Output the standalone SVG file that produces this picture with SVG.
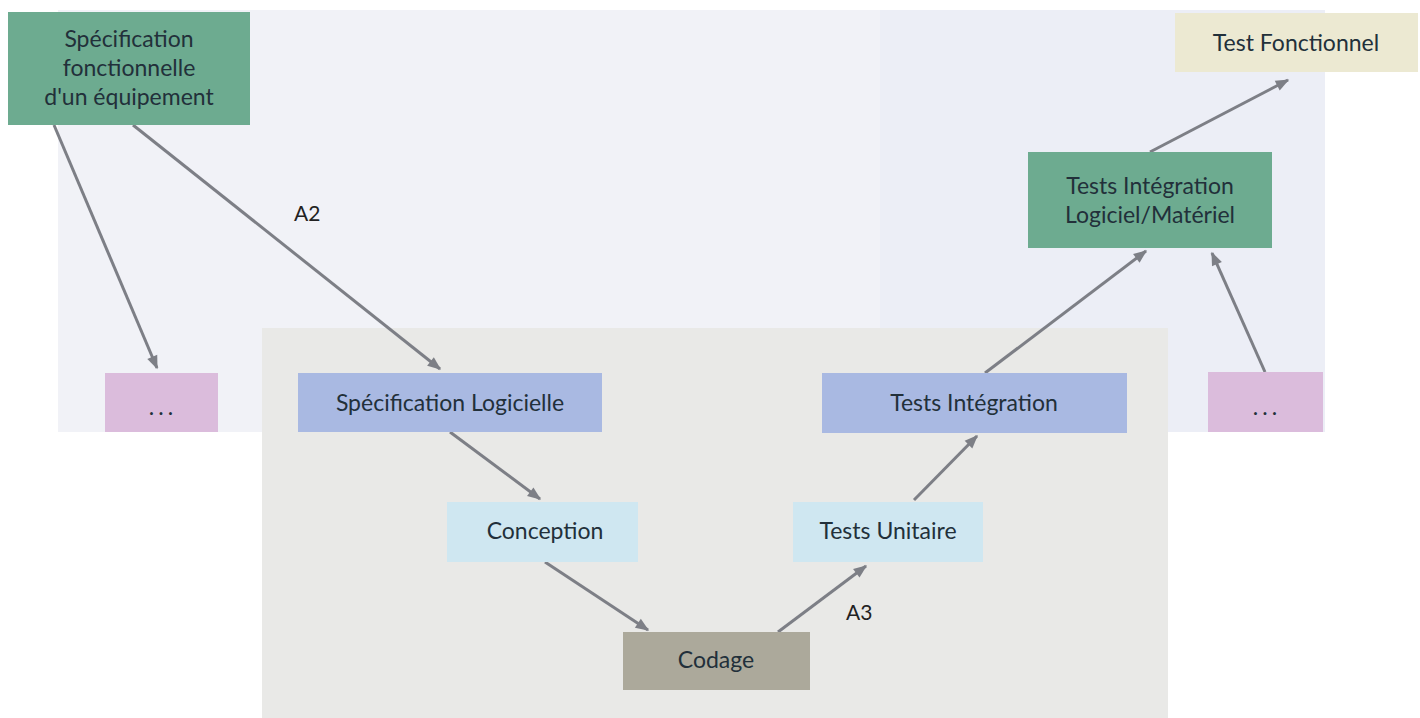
<svg xmlns="http://www.w3.org/2000/svg" width="1420" height="718" viewBox="0 0 1420 718">
<defs>
<style>
.t{font-family:Lato,"Open Sans","Liberation Sans",sans-serif;font-size:23px;fill:#22303a;text-anchor:middle;dominant-baseline:central}
.d{letter-spacing:4px}
.c{stroke:#7d7f86;stroke-width:3;fill:none;marker-end:url(#ah)}
.lbl{font-family:Lato,"Liberation Sans",sans-serif;font-size:21px;fill:#222}
</style>
<marker id="ah" viewBox="0 0 10 10" refX="9" refY="5" markerWidth="5" markerHeight="4.5" orient="auto-start-reverse" markerUnits="strokeWidth">
<path d="M0,1 L10,5 L0,9 Z" fill="#7d7f86"/>
</marker>
</defs>
<rect width="1420" height="718" fill="#ffffff"/>
<g id="background">
<rect x="58" y="10" width="1267" height="422" fill="#f1f2f7"/>
<rect x="880" y="10" width="445" height="422" fill="#eceef6"/>
<rect x="262" y="328" width="906" height="390" fill="#e9e9e7"/>
</g>
<g id="connectors">
<line class="c" x1="54" y1="125" x2="157" y2="368"/>
<line class="c" x1="133" y1="125" x2="440" y2="369"/>
<line class="c" x1="450" y1="432" x2="540" y2="499"/>
<line class="c" x1="545" y1="562" x2="648" y2="630"/>
<line class="c" x1="778" y1="632" x2="866" y2="566"/>
<line class="c" x1="914" y1="500" x2="977" y2="436"/>
<line class="c" x1="985" y1="373" x2="1146" y2="251"/>
<line class="c" x1="1265" y1="372" x2="1212" y2="253"/>
<line class="c" x1="1150" y1="152" x2="1288" y2="80"/>
<text class="lbl" x="294" y="221">A2</text>
<text class="lbl" x="846" y="620">A3</text>
</g>
<g id="spec-fonct">
<rect x="8" y="12" width="242" height="113" fill="#6dab90"/>
<text class="t" x="129" y="38">Spécification</text>
<text class="t" x="129" y="67">fonctionnelle</text>
<text class="t" x="129" y="96">d'un équipement</text>
</g>
<g id="test-fonct">
<rect x="1175" y="13" width="243" height="59" fill="#ece9d2"/>
<text class="t" x="1296" y="42">Test Fonctionnel</text>
</g>
<g id="tests-int-lm">
<rect x="1028" y="152" width="244" height="96" fill="#6dab90"/>
<text class="t" x="1150" y="185">Tests Intégration</text>
<text class="t" x="1150" y="214">Logiciel/Matériel</text>
</g>
<g id="dots-left">
<rect x="105" y="373" width="113" height="59" fill="#dbbcdc"/>
<text class="t d" x="163" y="406">...</text>
</g>
<g id="spec-log">
<rect x="298" y="373" width="304" height="59" fill="#a9b9e2"/>
<text class="t" x="450" y="402">Spécification Logicielle</text>
</g>
<g id="tests-int">
<rect x="822" y="373" width="305" height="60" fill="#a9b9e2"/>
<text class="t" x="974" y="402">Tests Intégration</text>
</g>
<g id="dots-right">
<rect x="1208" y="372" width="115" height="60" fill="#dbbcdc"/>
<text class="t d" x="1267" y="406">...</text>
</g>
<g id="conception">
<rect x="447" y="502" width="191" height="60" fill="#cfe7f1"/>
<text class="t" x="545" y="530">Conception</text>
</g>
<g id="tests-unit">
<rect x="793" y="502" width="190" height="60" fill="#cfe7f1"/>
<text class="t" x="888" y="530">Tests Unitaire</text>
</g>
<g id="codage">
<rect x="623" y="632" width="187" height="58" fill="#aca99b"/>
<text class="t" x="716" y="659">Codage</text>
</g>
</svg>
